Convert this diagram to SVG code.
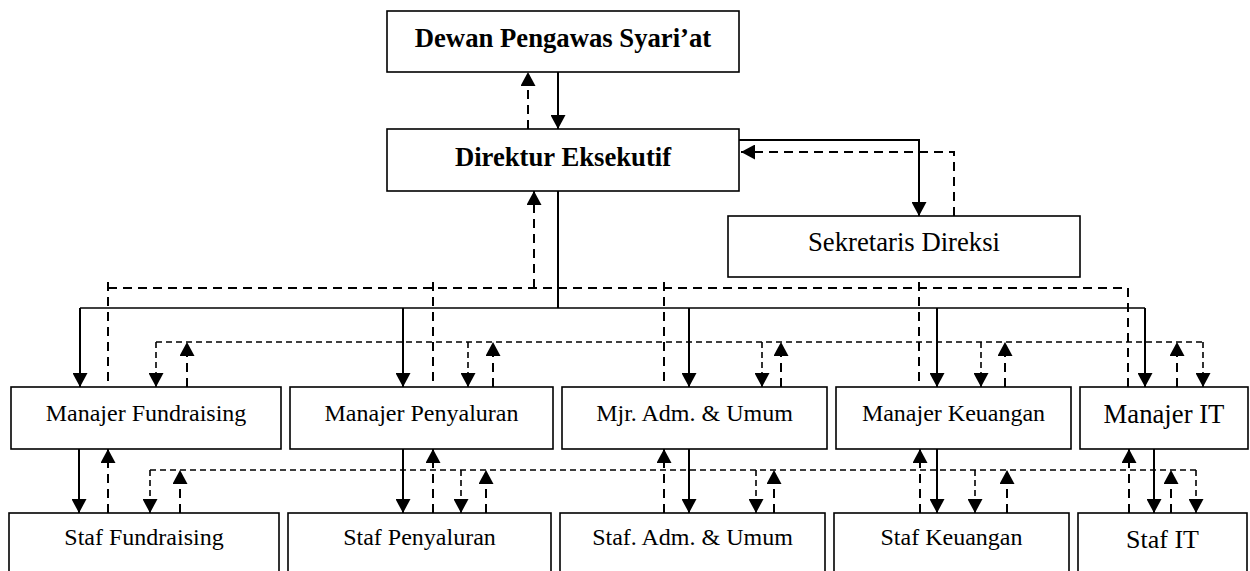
<svg xmlns="http://www.w3.org/2000/svg" width="1250" height="571" viewBox="0 0 1250 571">
<style>
.box{fill:#fff;stroke:#000;stroke-width:1.6}
.t{font-family:"Liberation Serif","Times New Roman",serif;font-size:24px;text-anchor:middle;fill:#000}
.tb{font-weight:bold;font-size:26.7px}
.tl{font-size:26.7px}
.s{fill:none;stroke:#000;stroke-width:2}
.sh{fill:none;stroke:#000;stroke-width:1.6}
.d{fill:none;stroke:#000;stroke-width:2;stroke-dasharray:9,6}
.dd{fill:none;stroke:#000;stroke-width:1.6;stroke-dasharray:6,4}
.a{marker-end:url(#ah)}
</style>
<defs>
<marker id="ah" viewBox="0 0 14 15" refX="14" refY="7.5" markerWidth="14" markerHeight="15" markerUnits="userSpaceOnUse" orient="auto">
<path d="M0,0 L14,7.5 L0,15 z" fill="#000"/>
</marker>
</defs>
<g id="connectors">
<path class="s a" d="M558,72 V129"/>
<path class="d a" d="M528,129 V72"/>
<path class="s a" d="M739,140 H919 V216"/>
<path class="d a" d="M954,216 V152 H741"/>
<path class="s" d="M558,191 V308"/>
<path class="sh" d="M80,308 H1145"/>
<path class="s a" d="M80,308 V387"/>
<path class="s a" d="M403,308 V387"/>
<path class="s a" d="M689,308 V387"/>
<path class="s a" d="M937,308 V387"/>
<path class="s a" d="M1145,308 V387"/>
<path class="d" d="M108,288 H1128 V387"/>
<path class="d" d="M108,282 V387"/>
<path class="d" d="M433,282 V387"/>
<path class="d" d="M664,282 V387"/>
<path class="d" d="M919,282 V387"/>
<path class="d a" d="M534,288 V191"/>
<path class="dd" d="M156,342 H1203"/>
<path class="dd a" d="M156,342 V387"/>
<path class="dd a" d="M468,342 V387"/>
<path class="dd a" d="M762,342 V387"/>
<path class="dd a" d="M981,342 V387"/>
<path class="dd a" d="M1203,342 V387"/>
<path class="d a" d="M187,387 V342"/>
<path class="d a" d="M493,387 V342"/>
<path class="d a" d="M781,387 V342"/>
<path class="d a" d="M1005,387 V342"/>
<path class="d a" d="M1177,387 V342"/>
<path class="s a" d="M79,449 V513"/>
<path class="s a" d="M403,449 V513"/>
<path class="s a" d="M689,449 V513"/>
<path class="s a" d="M937,449 V513"/>
<path class="s a" d="M1154,449 V513"/>
<path class="d a" d="M108,513 V449"/>
<path class="d a" d="M433,513 V449"/>
<path class="d a" d="M664,513 V449"/>
<path class="d a" d="M920,513 V449"/>
<path class="d a" d="M1129,513 V449"/>
<path class="dd" d="M150,470 H1196"/>
<path class="dd a" d="M150,470 V513"/>
<path class="dd a" d="M461,470 V513"/>
<path class="dd a" d="M756,470 V513"/>
<path class="dd a" d="M975,470 V513"/>
<path class="dd a" d="M1196,470 V513"/>
<path class="d a" d="M180,513 V470"/>
<path class="d a" d="M486,513 V470"/>
<path class="d a" d="M774,513 V470"/>
<path class="d a" d="M1007,513 V470"/>
<path class="d a" d="M1171,513 V470"/>
</g>
<g id="dewan"><rect class="box" x="387" y="11" width="352" height="61"/><text class="t tb" x="563" y="47">Dewan Pengawas Syari’at</text></g>
<g id="direktur"><rect class="box" x="387" y="129" width="352" height="62"/><text class="t tb" x="563" y="166">Direktur Eksekutif</text></g>
<g id="sekretaris"><rect class="box" x="728" y="216" width="352" height="61"/><text class="t tl" x="904" y="251">Sekretaris Direksi</text></g>
<g id="m-fund"><rect class="box" x="11" y="387" width="270" height="62"/><text class="t" x="146" y="421">Manajer Fundraising</text></g>
<g id="m-peny"><rect class="box" x="290" y="387" width="263" height="62"/><text class="t" x="421.5" y="421">Manajer Penyaluran</text></g>
<g id="m-adm"><rect class="box" x="562" y="387" width="265" height="62"/><text class="t" x="694.5" y="421">Mjr. Adm. &amp; Umum</text></g>
<g id="m-keu"><rect class="box" x="836" y="387" width="235" height="62"/><text class="t" x="953.5" y="421">Manajer Keuangan</text></g>
<g id="m-it"><rect class="box" x="1080" y="387" width="168" height="62"/><text class="t tl" x="1164" y="423">Manajer IT</text></g>
<g id="s-fund"><rect class="box" x="9" y="513" width="270" height="70"/><text class="t" x="144" y="545">Staf Fundraising</text></g>
<g id="s-peny"><rect class="box" x="288" y="513" width="263" height="70"/><text class="t" x="419.5" y="545">Staf Penyaluran</text></g>
<g id="s-adm"><rect class="box" x="560" y="513" width="265" height="70"/><text class="t" x="692.5" y="545">Staf. Adm. &amp; Umum</text></g>
<g id="s-keu"><rect class="box" x="834" y="513" width="235" height="70"/><text class="t" x="951.5" y="545">Staf Keuangan</text></g>
<g id="s-it"><rect class="box" x="1078" y="513" width="169" height="70"/><text class="t" x="1162.5" y="548" style="font-size:26px">Staf IT</text></g>
</svg>
